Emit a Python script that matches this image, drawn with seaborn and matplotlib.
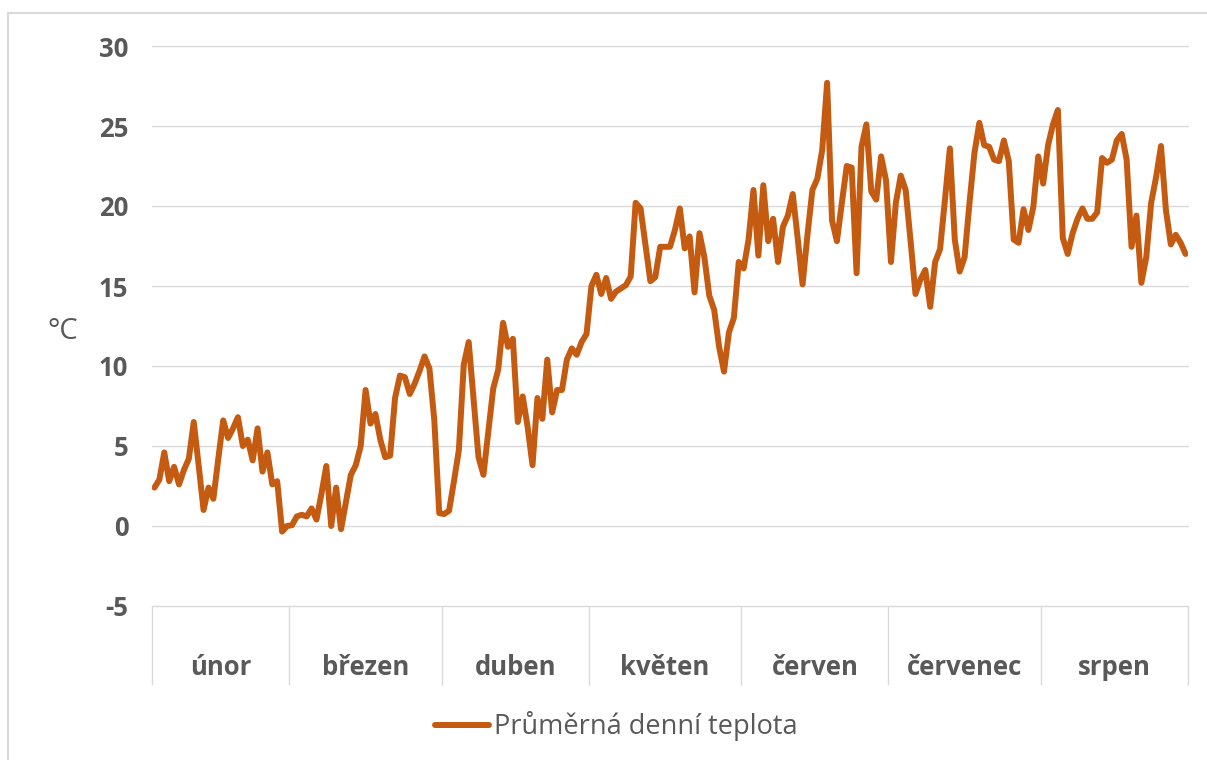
import numpy as np
import pandas as pd
import matplotlib
matplotlib.use("Agg")
import matplotlib.pyplot as plt
from matplotlib.lines import Line2D
import seaborn as sns

# ---- data -------------------------------------------------------------
months = ["únor", "březen", "duben", "květen", "červen", "červenec", "srpen"]

feb = [2.4, 2.9, 4.6, 2.8, 3.7, 2.6, 3.5, 4.2, 6.5, 3.8, 1.0, 2.4, 1.7, 4.2,
       6.6, 5.5, 6.1, 6.8, 5.0, 5.4, 4.1, 6.1, 3.4, 4.6, 2.6, 2.8, -0.35, 0.0]
mar = [0.05, 0.6, 0.7, 0.6, 1.1, 0.4, 2.0, 3.75, 0.0, 2.4, -0.2, 1.5, 3.2,
       3.8, 5.0, 8.5, 6.4, 7.0, 5.4, 4.3, 4.4, 8.0, 9.4, 9.3, 8.25, 8.9, 9.7,
       10.6, 9.85, 6.6, 0.8]
apr = [0.75, 0.95, 2.8, 4.75, 10.1, 11.5, 7.9, 4.3, 3.2, 5.9, 8.6, 9.75, 12.7,
       11.2, 11.7, 6.5, 8.1, 6.2, 3.8, 8.0, 6.7, 10.4, 7.1, 8.5, 8.5, 10.4,
       11.1, 10.7, 11.5, 12.0]
may = [15.0, 15.7, 14.5, 15.5, 14.2, 14.65, 14.85, 15.05, 15.6, 20.2, 19.85,
       17.6, 15.3, 15.55, 17.45, 17.45, 17.45, 18.5, 19.85, 17.35, 18.1, 14.6,
       18.3, 16.8, 14.4, 13.5, 11.2, 9.65, 12.1, 13.0, 16.5]
jun = [16.1, 17.9, 21.0, 16.9, 21.3, 17.8, 19.2, 16.5, 18.7, 19.4, 20.75, 18.0,
       15.1, 18.2, 21.0, 21.7, 23.5, 27.7, 19.1, 17.8, 20.2, 22.5, 22.4, 15.8,
       23.7, 25.1, 20.9, 20.4, 23.1, 21.6]
jul = [16.5, 20.2, 21.9, 21.0, 17.8, 14.5, 15.4, 16.0, 13.7, 16.5, 17.3, 20.4,
       23.6, 17.9, 15.9, 16.8, 20.2, 23.3, 25.2, 23.8, 23.7, 22.9, 22.8, 24.1,
       22.8, 17.9, 17.7, 19.8, 18.5, 19.95, 23.1]
aug = [21.4, 23.8, 25.1, 26.0, 18.0, 17.0, 18.3, 19.2, 19.85, 19.2, 19.2, 19.6,
       23.0, 22.7, 22.9, 24.1, 24.5, 22.9, 17.45, 19.4, 15.2, 16.8, 20.2, 21.8,
       23.75, 19.75, 17.6, 18.2, 17.7, 17.0]

series_name = "Průměrná denní teplota"
y_ticks = [-5, 0, 5, 10, 15, 20, 25, 30]

month_data = [feb, mar, apr, may, jun, jul, aug]
temps = np.concatenate(month_data)
counts = [len(m) for m in month_data]
df = pd.DataFrame({"pos": np.arange(len(temps)) + 0.5, "temp": temps})

# ---- style --------------------------------------------------------------
sns.set_style("white")
plt.rcParams["font.family"] = ["Open Sans", "DejaVu Sans"]
TXT = "#595959"
GRID = "#D9D9D9"
LINE = "#C55A11"

W, H = 1207, 760
fig = plt.figure(figsize=(W / 100, H / 100), dpi=100)
ax = fig.add_axes([152 / W, (H - 606) / H, 1036 / W, 560 / H])

sns.lineplot(data=df, x="pos", y="temp", ax=ax, color=LINE, linewidth=4.3,
             label=series_name, solid_capstyle="round", solid_joinstyle="round")

ax.set_xlim(0, len(temps))
ax.set_ylim(-5, 30)
ax.set_yticks(y_ticks)
ax.set_yticklabels([str(t) for t in y_ticks], fontsize=18.5, fontweight="bold",
                   color=TXT)
ax.tick_params(axis="y", length=0, pad=17)
ax.set_xticks([])
ax.set_xlabel("")
ax.set_ylabel("°C", rotation=0, fontsize=21, color=TXT, labelpad=0)
ax.yaxis.label.set_va("center")
ax.yaxis.label.set_ha("right")
ax.yaxis.set_label_coords((78 - 152) / 1036, (606 - 331) / 560)

ax.yaxis.grid(True, color=GRID, linewidth=1.0)
for gl in ax.get_ygridlines():
    gl.set_clip_on(False)
ax.set_axisbelow(True)
for s in ["top", "right", "left", "bottom"]:
    ax.spines[s].set_visible(False)

# category (month) axis
bounds = np.concatenate([[0], np.cumsum(counts)])
ax.vlines(bounds, -0.141, 0, transform=ax.get_xaxis_transform(),
          colors=GRID, linewidth=1.0, clip_on=False)
for i, m in enumerate(months):
    ax.text((bounds[i] + bounds[i + 1]) / 2, -0.11, m,
            transform=ax.get_xaxis_transform(), ha="center", va="center",
            fontsize=18.5, fontweight="bold", color=TXT)

# legend
leg = ax.legend(loc="center", bbox_to_anchor=(616 / W, 1 - 726 / H),
                bbox_transform=fig.transFigure, frameon=False,
                fontsize=19.5, handlelength=2.0, handletextpad=0.18)
for t in leg.get_texts():
    t.set_color(TXT)

# chart area border (left and top visible)
fig.add_artist(Line2D([8 / W, 1.0], [1 - 13 / H, 1 - 13 / H], color=GRID,
                      linewidth=1.5))
fig.add_artist(Line2D([8 / W, 8 / W], [0, 1 - 13 / H], color=GRID,
                      linewidth=1.5))

fig.savefig("out.png", dpi=100)
